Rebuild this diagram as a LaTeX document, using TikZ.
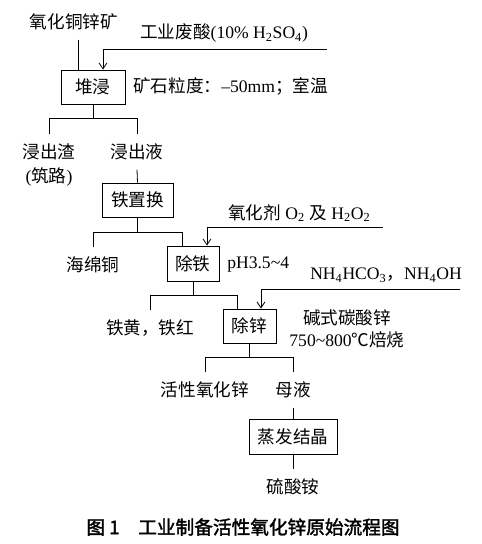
\documentclass[tikz,border=0pt]{standalone}
\usepackage{fontspec}
\setmainfont{Liberation Serif}
\newfontfamily\cjk{Noto Sans CJK SC}
\newfontfamily\cjkbold[FakeBold=2]{Noto Sans CJK SC}
\usetikzlibrary{arrows.meta}

\begin{document}
\begin{tikzpicture}[
    x=0.75pt, y=-0.75pt,
    every node/.style={font=\fontsize{13.2}{16.5}\selectfont},
    stage/.style={draw, line width=0.6pt, inner sep=0pt, minimum height=25.5pt, align=center},
    item/.style={inner xsep=0pt, inner ysep=7pt},
    note/.style={inner sep=0pt, anchor=west},
    flow/.style={line width=0.6pt},
    feed/.style={line width=0.6pt, -{Straight Barb[length=4.5pt,width=6pt]}},
  ]
    \useasboundingbox (0,0) rectangle (482,544);

    \node[item] (ore) at (74,22) {\cjk 氧化铜锌矿};
    \node[note] (acid) at (140,33) {{\cjk 工业废酸}(10\% H\textsubscript{2}SO\textsubscript{4})};
    \node[stage, minimum width=48pt] (heap) at (93,87) {\cjk 堆浸};
    \node[note] (size) at (133,86) {{\cjk 矿石粒度：}–50mm{\cjk ；室温}};

    \node[item] (slag) at (49,152) {\cjk 浸出渣};
    \node[inner sep=0pt] (slagnote) at (49,177) {({\cjk 筑路})};
    \node[item] (leach) at (137,152) {\cjk 浸出液};
    \node[stage, minimum width=53.25pt] (swap) at (137.5,200) {\cjk 铁置换};
    \node[note] (oxid) at (228,213) {{\cjk 氧化剂} O\textsubscript{2} {\cjk 及} H\textsubscript{2}O\textsubscript{2}};

    \node[item] (sponge) at (93,265) {\cjk 海绵铜};
    \node[stage, minimum width=39pt, minimum height=26.25pt] (defe) at (193,263.5) {\cjk 除铁};
    \node[note] (ph) at (227,265) {pH3.5\textasciitilde4};
    \node[note] (ammon) at (310,275) {NH\textsubscript{4}HCO\textsubscript{3}{\cjk ，}NH\textsubscript{4}OH};

    \node[item] (ferric) at (150,328) {\cjk 铁黄，铁红};
    \node[stage, minimum width=39.75pt] (dezn) at (249.5,326) {\cjk 除锌};
    \node[align=center, inner sep=0pt] (calcine) at (347,329) {{\cjk 碱式碳酸锌}\\750\textasciitilde800{\cjk ℃焙烧}};

    \node[item] (zno) at (205,390) {\cjk 活性氧化锌};
    \node[item] (mother) at (293,390) {\cjk 母液};
    \node[stage, minimum width=66pt, minimum height=26.25pt] (evap) at (293,436.5) {\cjk 蒸发结晶};
    \node[item] (ams) at (293,487) {\cjk 硫酸铵};

    \node (caption) at (243,527) {\cjkbold\fontsize{14}{16}\selectfont 图 1\quad 工业制备活性氧化锌原始流程图};

    % feeds from the right
    \coordinate (acidend) at (327,49);
    \coordinate (oxidend) at (383,227);
    \coordinate (ammonend) at (460,289);

    \draw[flow] ([xshift=3pt]ore.south) -- ([xshift=3pt]ore.south |- heap.north);
    \draw[feed] (acidend) -| ([xshift=7.5pt]heap.north);
    \draw[flow] (heap.south) -- ++(0,14) coordinate (fork1);
    \draw[flow] (slag.north) |- (fork1) -| (leach.north);
    \draw[flow] (leach.south) -- (swap.north);

    \draw[flow] (swap.south) -- ++(0,15) coordinate (fork2);
    \draw[flow] (sponge.north) |- (fork2) -| ([xshift=-8.25pt]defe.north);
    \draw[feed] (oxidend) -| ([xshift=10.5pt]defe.north);

    \draw[flow] (defe.south) -- ++(0,14) coordinate (fork3);
    \draw[flow] (ferric.north) |- (fork3) -| ([xshift=-9.4pt]dezn.north);
    \draw[feed] (ammonend) -| ([xshift=8.6pt]dezn.north);

    \draw[flow] (dezn.south) -- ++(0,14) coordinate (fork4);
    \draw[flow] (zno.north) |- (fork4) -| (mother.north);
    \draw[flow] (mother.south) -- (evap.north);
    \draw[flow] (evap.south) -- (ams.north);
\end{tikzpicture}
\end{document}
